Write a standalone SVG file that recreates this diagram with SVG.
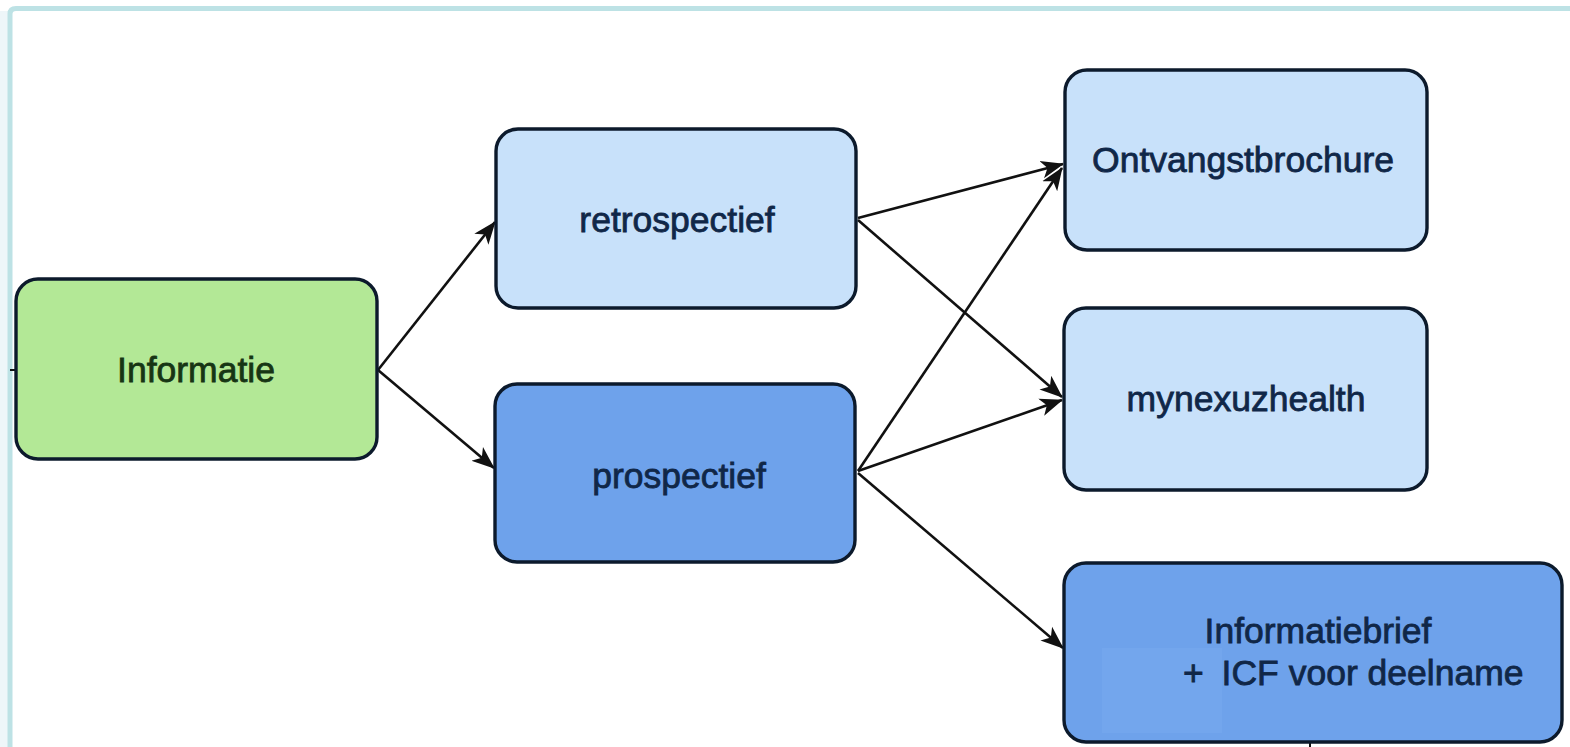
<svg xmlns="http://www.w3.org/2000/svg" width="1570" height="747" viewBox="0 0 1570 747">
<style>
.node{stroke:#0c1a2c;stroke-width:3.4}
.lb{fill:#c8e1fa}
.db{fill:#6ea2eb}
.gr{fill:#b3e896}
.t{font-family:"Liberation Sans",Arial,sans-serif;font-size:35.5px;fill:#102748;stroke:#102748;stroke-width:0.8;text-anchor:middle}
.edge{stroke:#111;stroke-width:2.6;fill:none;marker-end:url(#ah)}
</style>
<defs>
<marker id="ah" markerUnits="userSpaceOnUse" markerWidth="24" markerHeight="20" refX="22" refY="9" orient="auto" viewBox="0 0 24 18">
<path d="M0,0 L23,9 L0,18 L6,9 z" fill="#111"/>
</marker>
</defs>
<rect x="0" y="0" width="1570" height="747" fill="#ffffff"/>
<rect x="0" y="11" width="8" height="736" fill="#eef6f9"/>
<path d="M10,747 L10,14 Q10,8.5 16,8.5 L1570,8.5" fill="none" stroke="#bde2e5" stroke-width="5"/>
<g id="connectors">
<line x1="10" y1="370" x2="16" y2="370" stroke="#111" stroke-width="2"/>
<line class="edge" x1="378" y1="370" x2="495" y2="222"/>
<line class="edge" x1="378" y1="370" x2="494" y2="468"/>
<line class="edge" x1="858" y1="218" x2="1063" y2="164"/>
<line class="edge" x1="858" y1="220" x2="1062" y2="397"/>
<line class="edge" x1="858" y1="471" x2="1062" y2="168"/>
<line class="edge" x1="858" y1="471" x2="1062" y2="400"/>
<line class="edge" x1="858" y1="473" x2="1063" y2="648"/>
<line x1="1310" y1="742" x2="1310" y2="747" stroke="#111" stroke-width="2"/>
</g>
<g id="node-informatie">
<rect class="node gr" x="16" y="279" width="361" height="180" rx="22"/>
<text class="t" x="196" y="382" style="fill:#173514;stroke:#173514">Informatie</text>
</g>
<g id="node-retrospectief">
<rect class="node lb" x="496" y="129" width="360" height="179" rx="22"/>
<text class="t" x="677" y="232">retrospectief</text>
</g>
<g id="node-prospectief">
<rect class="node db" x="495" y="384" width="360" height="178" rx="22"/>
<text class="t" x="679" y="488">prospectief</text>
</g>
<g id="node-ontvangstbrochure">
<rect class="node lb" x="1065" y="70" width="362" height="180" rx="22"/>
<text class="t" x="1243" y="172">Ontvangstbrochure</text>
</g>
<g id="node-mynexuzhealth">
<rect class="node lb" x="1064" y="308" width="363" height="182" rx="22"/>
<text class="t" x="1246" y="411">mynexuzhealth</text>
</g>
<g id="node-informatiebrief">
<rect class="node db" x="1064" y="563" width="498" height="179" rx="22"/>
<rect x="1102" y="648" width="120" height="85" fill="#73a6ed"/>
<text class="t" x="1318" y="643">Informatiebrief</text>
<text class="t" x="1183" y="685" style="text-anchor:start">+ <tspan dx="8">ICF voor deelname</tspan></text>
</g>
</svg>
